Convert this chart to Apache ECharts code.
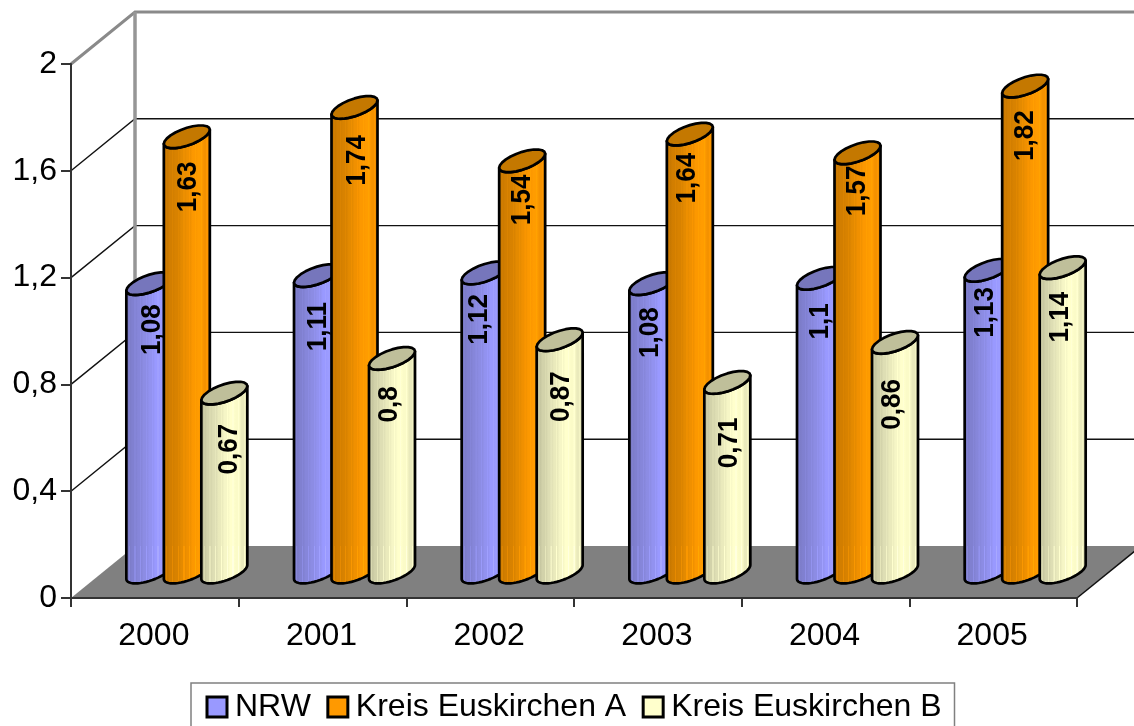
<!DOCTYPE html>
<html lang="de">
<head>
<meta charset="UTF-8">
<title>Kreis Euskirchen</title>
<script src="https://cdn.jsdelivr.net/npm/echarts@6/dist/echarts.min.js"></script>
<style>
html, body { margin: 0; padding: 0; background: #fff; }
#main { width: 1134px; height: 726px; }
</style>
</head>
<body>
<div id="main"></div>
<script>
var years = ['2000', '2001', '2002', '2003', '2004', '2005'];
var yTicks = [0, 0.4, 0.8, 1.2, 1.6, 2];
var nrw = [1.08, 1.11, 1.12, 1.08, 1.1, 1.13];
var kreisA = [1.63, 1.74, 1.54, 1.64, 1.57, 1.82];
var kreisB = [0.67, 0.8, 0.87, 0.71, 0.86, 1.14];

// the labels were placed by hand in the original, so each one has its own nudge
var nudgeXNrw = [3, 1, -5, -2, 0, -2];
var nudgeYNrw = [46, 51, 46.5, 49, 43, 42];
var nudgeXA = [1, 2.5, 0, -3, 0, 0];
var nudgeYA = [50, 53, 39, 44, 38, 49.5];
var nudgeXB = [5, -3, 2, 2, -2.5, -2];
var nudgeYB = [56, 46, 57, 60.5, 62, 49.5];

var FONT = '"Liberation Sans", Arial, sans-serif';
// fake 3d: how far the back wall sits from the front axes
var DEPTH_X = 64, DEPTH_Y = -52;
var HALF_W = 23, TILT = 7, ROUND = 9;

var looks = [
    { name: 'NRW', values: nrw, color: '#9999ff', top: '#7676bc', shift: -37.5, nudgeX: nudgeXNrw, nudgeY: nudgeYNrw,
      stops: ['#7c7cc8', '#8080d0', '#8686da', '#8c8ce4', '#9292f0', '#9999ff', '#9c9cff', '#9999ff', '#9292f2'] },
    { name: 'Kreis Euskirchen A', values: kreisA, color: '#ff9900', top: '#c47800', shift: 0, nudgeX: nudgeXA, nudgeY: nudgeYA,
      stops: ['#c87800', '#d27e00', '#d88200', '#e48a00', '#f09000', '#fc9800', '#ff9c00', '#f49200', '#dc8400'] },
    { name: 'Kreis Euskirchen B', values: kreisB, color: '#ffffcc', top: '#bfbf9a', shift: 37.5, nudgeX: nudgeXB, nudgeY: nudgeYB,
      stops: ['#c6c6a0', '#d2d2aa', '#dedeb4', '#eaeabc', '#f6f6c6', '#ffffcc', '#fbfbc8', '#eaeabc', '#d6d6ac'] }
];

// body shading with the thin light streaks of the original
function bodyGradient(colors, streak) {
    var stops = [];
    var n = colors.length - 1;
    colors.forEach(function (c, i) {
        var at = i / n;
        stops.push({ offset: at, color: c });
        if (i < n) {
            stops.push({ offset: at + 0.4 / n, color: c });
            stops.push({ offset: at + 0.41 / n, color: echarts.color.lift(c, -streak) });
            stops.push({ offset: at + 0.6 / n, color: echarts.color.lift(c, -streak) });
            stops.push({ offset: at + 0.61 / n, color: c });
        }
    });
    return new echarts.graphic.LinearGradient(0, 0, 1, 0, stops);
}

// part of the cylinder's ellipse, from angle a to angle b
function arc(cx, cy, a, b) {
    var pts = [];
    for (var i = 0; i <= 24; i++) {
        var t = a + (b - a) * i / 24;
        pts.push([cx + HALF_W * Math.cos(t), cy - TILT * Math.cos(t) + ROUND * Math.sin(t)]);
    }
    return pts;
}

function cylinderItem(look) {
    var fill = bodyGradient(look.stops, 0.04);
    var lowFill = bodyGradient(look.stops, 0.1);
    return function (params, api) {
        var top = api.coord([api.value(0), api.value(1)]);
        var base = api.coord([api.value(0), 0]);
        var cx = top[0] + DEPTH_X / 2 + look.shift;
        var topY = top[1] + DEPTH_Y / 2;
        var baseY = base[1] + DEPTH_Y / 2;
        var backY = base[1] + DEPTH_Y;
        var bottom = arc(cx, baseY, Math.PI, 0);
        var outline = bottom.concat(arc(cx, topY, 0, Math.PI));
        var low = bottom.concat([[cx + HALF_W, backY], [cx - HALF_W, backY]]);
        var line = { stroke: '#000', lineWidth: 2.7, lineJoin: 'round' };
        return {
            type: 'group',
            children: [
                { type: 'polygon', shape: { points: outline }, style: { fill: fill } },
                { type: 'polygon', shape: { points: low }, style: { fill: lowFill } },
                { type: 'polygon', shape: { points: outline }, style: Object.assign({ fill: 'none' }, line) },
                { type: 'polygon', shape: { points: arc(cx, topY, 0, Math.PI * 2) }, style: Object.assign({ fill: look.top }, line) }
            ]
        };
    };
}

function labelItem(look) {
    return function (params, api) {
        var k = api.value(0);
        var top = api.coord([k, api.value(1)]);
        return {
            type: 'text',
            x: top[0] + DEPTH_X / 2 + look.shift + look.nudgeX[k],
            y: top[1] + DEPTH_Y / 2 + look.nudgeY[k],
            rotation: Math.PI / 2,
            scaleX: 0.93,
            style: {
                text: String(api.value(1)).replace('.', ','),
                font: 'bold 28px ' + FONT,
                fill: '#000',
                textAlign: 'center',
                textVerticalAlign: 'middle'
            }
        };
    };
}

function roomItem(params, api) {
    var sys = params.coordSys;
    var left = sys.x, right = sys.x + sys.width;
    var floorY = api.coord([0, 0])[1];
    var topY = api.coord([0, yTicks[yTicks.length - 1]])[1];
    var children = [{
        type: 'polygon',
        shape: { points: [[left, floorY], [right, floorY], [right + DEPTH_X, floorY + DEPTH_Y], [left + DEPTH_X, floorY + DEPTH_Y]] },
        style: { fill: '#808080' }
    }];
    yTicks.forEach(function (tick, i) {
        if (tick === 0) return;
        var y = api.coord([0, tick])[1];
        var last = i === yTicks.length - 1;
        var style = last ? { stroke: '#8a8a8a', lineWidth: 3 } : { stroke: '#111', lineWidth: 1.4 };
        children.push({
            type: 'polyline',
            shape: { points: [[left, y], [left + DEPTH_X, y + DEPTH_Y], [right + DEPTH_X, y + DEPTH_Y]] },
            style: Object.assign({ fill: 'none' }, style)
        });
    });
    children.push({
        type: 'line',
        shape: { x1: left + DEPTH_X, y1: topY + DEPTH_Y, x2: left + DEPTH_X, y2: floorY + DEPTH_Y },
        style: { stroke: '#969696', lineWidth: 3.5 }
    });
    children.push({
        type: 'line',
        shape: { x1: right, y1: floorY, x2: right + DEPTH_X, y2: floorY + DEPTH_Y },
        style: { stroke: '#111', lineWidth: 1.5 }
    });
    return { type: 'group', children: children };
}

var series = [{
    type: 'custom',
    z: 1,
    silent: true,
    data: [[0, 0]],
    encode: { x: 0, y: 1 },
    renderItem: roomItem
}];

looks.forEach(function (look, i) {
    var rows = look.values.map(function (v, k) { return [k, v]; });
    series.push({
        name: look.name,
        type: 'custom',
        z: 3 + i,
        itemStyle: { color: look.color },
        data: rows,
        encode: { x: 0, y: 1 },
        renderItem: cylinderItem(look)
    });
    series.push({
        type: 'custom',
        z: 10,
        silent: true,
        data: rows,
        encode: { x: 0, y: 1 },
        renderItem: labelItem(look)
    });
});

var myChart = echarts.init(document.getElementById('main'));
myChart.setOption({
    animation: false,
    backgroundColor: '#fff',
    grid: { left: 71, top: 64, width: 1006, height: 534, containLabel: false },
    xAxis: {
        type: 'category',
        data: years,
        z: 6,
        axisLine: { lineStyle: { color: '#333', width: 2 } },
        axisTick: { show: true, alignWithLabel: false, length: 9, lineStyle: { color: '#333', width: 2 } },
        axisLabel: { color: '#000', fontFamily: FONT, fontSize: 32, margin: 22, padding: [0, 2, 0, 0] }
    },
    yAxis: {
        type: 'value',
        min: 0,
        max: 2,
        interval: 0.4,
        z: 6,
        axisLine: { show: true, lineStyle: { color: '#333', width: 2 } },
        axisTick: { show: true, length: 10, lineStyle: { color: '#333', width: 2 } },
        splitLine: { show: false },
        axisLabel: {
            color: '#000', fontFamily: FONT, fontSize: 32, margin: 14,
            formatter: function (v) { return String(v).replace('.', ','); }
        }
    },
    legend: {
        left: 191,
        top: 683,
        padding: [8, 13, 6, 14.5],
        itemWidth: 20,
        itemHeight: 20,
        itemGap: 15.5,
        icon: 'rect',
        borderColor: '#808080',
        borderWidth: 1.5,
        selectedMode: false,
        data: looks.map(function (look) {
            return { name: look.name, itemStyle: { color: look.color, borderColor: '#000', borderWidth: 3 } };
        }),
        textStyle: { color: '#000', fontFamily: FONT, fontSize: 32, padding: [0, 0, 3, 3] }
    },
    series: series
});
</script>
</body>
</html>
